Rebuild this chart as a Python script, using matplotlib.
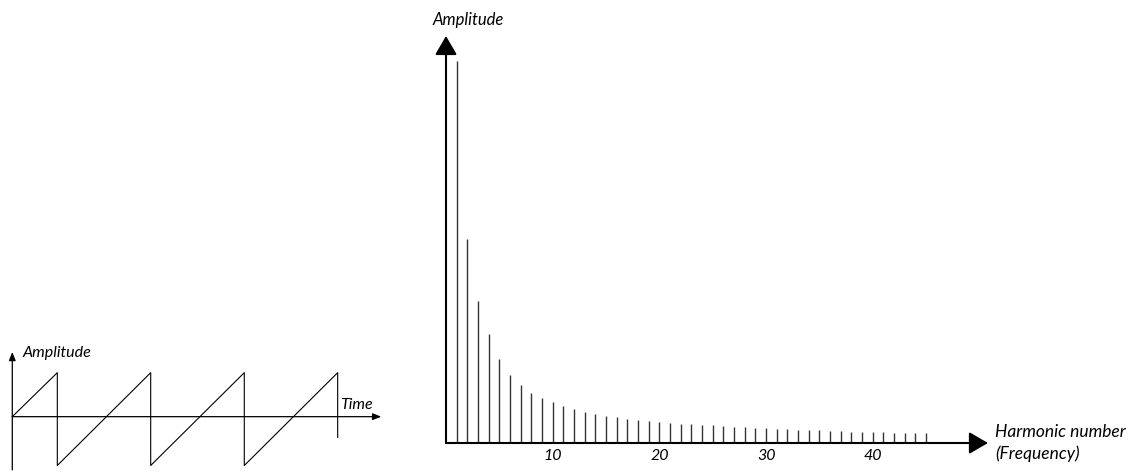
import matplotlib.pyplot as plt

# Sawtooth wave (left sketch)
sawTime = [0, 0.482, 0.482, 1.482, 1.482, 2.484, 2.484, 3.484, 3.484]
sawAmplitude = [0, 1.0, -1.11, 1.0, -1.11, 1.0, -1.11, 1.0, -0.47]

# Harmonic spectrum (right chart)
harmonicNumbers = list(range(1, 46))
harmonicAmplitudes = [1.000, 0.534, 0.372, 0.285, 0.220, 0.178, 0.152, 0.132, 0.118, 0.106,
                      0.097, 0.089, 0.081, 0.076, 0.071, 0.067, 0.064, 0.061, 0.058, 0.055,
                      0.052, 0.051, 0.049, 0.048, 0.046, 0.045, 0.043, 0.041, 0.039, 0.038,
                      0.037, 0.037, 0.035, 0.034, 0.033, 0.032, 0.031, 0.030, 0.029, 0.029,
                      0.028, 0.027, 0.027, 0.027, 0.027]
tickLabels = [10, 20, 30, 40]

plt.rcParams['font.family'] = ['Lato', 'DejaVu Sans']
plt.rcParams['font.style'] = 'italic'

fig = plt.figure(figsize=(11.3, 4.72), dpi=100)

#Left: sawtooth
ax1 = fig.add_axes([0.01088, 0.00445, 0.32646, 0.2498])
ax1.set_xlim(0, 3.95)
ax1.set_ylim(-1.21, 1.47)
ax1.axis('off')
ax1.plot(sawTime, sawAmplitude, color='black', linewidth=0.8, clip_on=False)
smallArrow = dict(arrowstyle='-|>,head_length=0.5,head_width=0.2', color='black',
                  linewidth=0.9, shrinkA=0, shrinkB=0, mutation_scale=10)
ax1.annotate('', xy=(3.95, 0), xytext=(0, 0), arrowprops=smallArrow, annotation_clip=False)
ax1.annotate('', xy=(0, 1.47), xytext=(0, -1.21), arrowprops=smallArrow, annotation_clip=False)
ax1.text(0.111, 1.455, 'Amplitude', ha='left', va='center', fontsize=11.5)
ax1.text(3.505, 0.27, 'Time', ha='left', va='center', fontsize=11.5)

#Right: spectrum
ax2 = fig.add_axes([0.39469, 0.06144, 0.4796, 0.86229])
ax2.set_xlim(0, 50.8)
ax2.set_ylim(0, 1.065)
for s in ax2.spines.values():
    s.set_visible(False)
ax2.set_yticks([])
ax2.set_xticks(tickLabels)
ax2.set_xticklabels([str(t) for t in tickLabels], fontsize=11.5)
ax2.tick_params(axis='x', length=0, pad=4.5)
ax2.vlines(harmonicNumbers, 0, harmonicAmplitudes, color='#333333', linewidth=1.0)
bigArrow = dict(arrowstyle='-|>,head_length=1.15,head_width=0.67', color='black',
                linewidth=1.5, shrinkA=0, shrinkB=0, mutation_scale=10)
ax2.annotate('', xy=(50.8, 0), xytext=(0, 0), arrowprops=bigArrow, annotation_clip=False)
ax2.annotate('', xy=(0, 1.065), xytext=(0, 0), arrowprops=bigArrow, annotation_clip=False)
ax2.text(-1.25, 1.107, 'Amplitude', ha='left', va='center', fontsize=12)
ax2.text(51.45, 0, 'Harmonic number\n(Frequency)', ha='left', va='center',
         fontsize=12.5, linespacing=1.45)

fig.savefig('out.png', dpi=100)
